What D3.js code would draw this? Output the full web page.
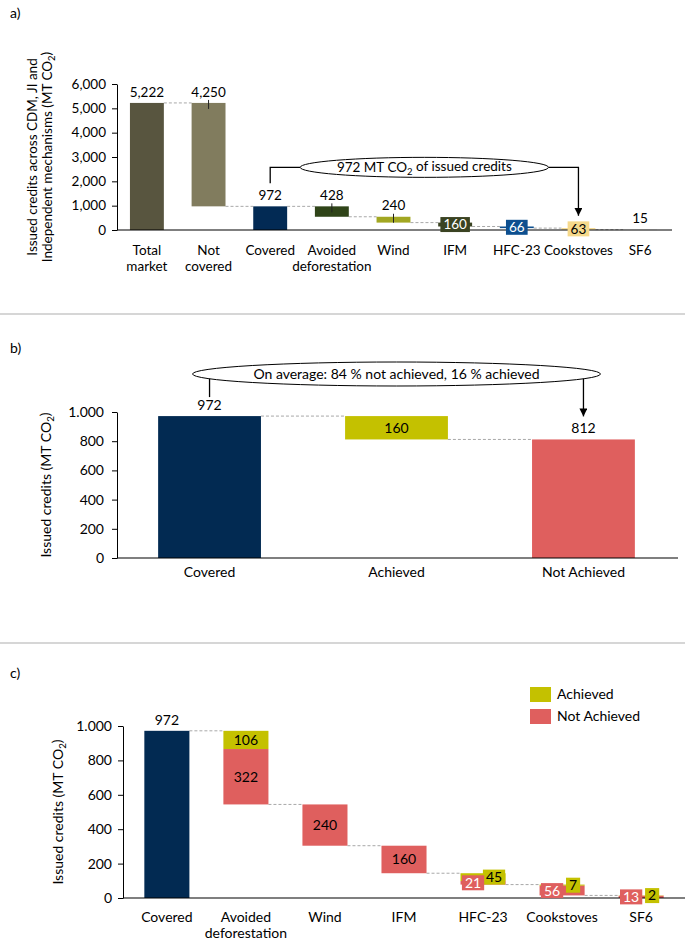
<!DOCTYPE html>
<html>
<head>
<meta charset="utf-8">
<script src="https://cdn.jsdelivr.net/npm/d3@7"></script>
<style>
body { margin: 0; background: #fff; }
svg { font-family: Lato, "Open Sans", sans-serif; }
</style>
</head>
<body>
<div id="chart"></div>
<script>
// ---- data, panel a (issued credits, all mechanisms) ----
var aCategories = [["Total", "market"], ["Not", "covered"], ["Covered"], ["Avoided", "deforestation"],
                   ["Wind"], ["IFM"], ["HFC-23"], ["Cookstoves"], ["SF6"]];
var aValues = [5222, 4250, 972, 428, 240, 160, 66, 63, 15];
var aKind = ["total", "step", "total", "step", "step", "step", "step", "step", "step"];
var aTicks = [0, 1000, 2000, 3000, 4000, 5000, 6000];

// ---- data, panel b ----
var bCategories = [["Covered"], ["Achieved"], ["Not Achieved"]];
var bValues = [972, 160, 812];
var bKind = ["total", "step", "total"];
var bTicks = [0, 200, 400, 600, 800, 1000];

// ---- data, panel c ----
var cCategories = [["Covered"], ["Avoided", "deforestation"], ["Wind"], ["IFM"], ["HFC-23"], ["Cookstoves"], ["SF6"]];
var cCovered = 972;
var cAchieved = [0, 106, 0, 0, 45, 7, 2];
var cNotAchieved = [0, 322, 240, 160, 21, 56, 13];
var cTicks = [0, 200, 400, 600, 800, 1000];

// colours
var aFill = ["#58553f", "#817c5e", "#022a54", "#2f4418", "#a2a722", "#3a4322", "#0d4f8f", "#f6d98b", "#dcdcdc"];
var navy = "#022a52", yellow = "#c4c100", red = "#df5f5e";

var W = 685, H = 940;
var svg = d3.select("#chart").append("svg").attr("width", W).attr("height", H);
svg.append("rect").attr("width", W).attr("height", H).attr("fill", "#fff");

svg.append("defs").append("marker")
   .attr("id", "arrow").attr("viewBox", "0 0 10 10")
   .attr("refX", 10).attr("refY", 5)
   .attr("markerWidth", 8).attr("markerHeight", 8)
   .attr("markerUnits", "userSpaceOnUse")
   .attr("orient", "auto")
   .append("path").attr("d", "M0,0 L10,5 L0,10 Z").attr("fill", "#000");

// separators + panel letters
svg.selectAll("line.sep").data([314, 643]).enter().append("line")
   .attr("x1", 0).attr("x2", W).attr("y1", d => d).attr("y2", d => d)
   .attr("stroke", "#c8c8c8").attr("stroke-width", 1.5);
svg.selectAll("text.letter").data([["a)", 13], ["b)", 348], ["c)", 673]]).enter().append("text")
   .attr("x", 10).attr("y", d => d[1]).attr("dy", "0.35em")
   .style("font-size", "14px").text(d => d[0]);

var fmtComma = d3.format(",");
var fmtDot = d3.formatLocale({decimal: ",", thousands: ".", grouping: [3], currency: ["", ""]}).format(",");

function yAxis(y, x0, ticks, fmt, fs, pad) {
    var ax = d3.axisLeft(y).tickValues(ticks).tickFormat(fmt)
               .tickSize(5).tickSizeOuter(0).tickPadding(pad);
    var g = svg.append("g").attr("transform", "translate(" + x0 + ",0)").call(ax);
    g.attr("font-family", null).attr("font-size", null);
    g.selectAll("text").style("font-size", fs + "px").attr("fill", "#000");
    g.selectAll("line").attr("stroke", "#000");
    g.select(".domain").attr("stroke", "#000");
}

function baseline(x, y) {
    svg.append("line")
       .attr("x1", x.range()[0]).attr("x2", x.range()[1] + 2)
       .attr("y1", y(0)).attr("y2", y(0))
       .attr("stroke", "#000").attr("stroke-width", 1.2);
}

function catLabels(x, cats, y0, lh, fs) {
    var t = svg.append("g").selectAll("text").data(cats).enter().append("text")
               .attr("text-anchor", "middle").style("font-size", fs + "px");
    t.each(function(d, i) {
        var sel = d3.select(this);
        d.forEach(function(line, j) {
            sel.append("tspan").attr("x", x(i) + x.bandwidth() / 2)
               .attr("y", y0 + j * lh).attr("dy", "0.35em").text(line);
        });
    });
}

// rotated y title, lines = array of strings; last line ends with "(MT CO" + sub 2 + ")"
function yTitle(cx, cy, lines, lh, fs) {
    var t = svg.append("text").attr("transform", "translate(" + cx + "," + cy + ") rotate(-90)")
               .attr("text-anchor", "middle").style("font-size", fs + "px");
    lines.forEach(function(line, j) {
        var ts = t.append("tspan").attr("x", 0).attr("y", j * lh).attr("dy", "0.35em");
        if (j === lines.length - 1) {
            ts.text(line + " (MT CO");
            t.append("tspan").attr("dy", "0.3em").style("font-size", (fs * 0.7) + "px").text("2");
            t.append("tspan").attr("dy", "-0.25em").text(")");
        } else {
            ts.text(line);
        }
    });
}

function waterfall(values, kind) {
    var level = 0;
    return values.map(function(v, i) {
        var lo, hi;
        if (kind[i] === "total") { lo = 0; hi = v; level = v; }
        else { hi = level; lo = level - v; level = lo; }
        return {i: i, lo: lo, hi: hi, v: v, end: level};
    });
}

function connectors(x, y, bars) {
    for (var k = 0; k < bars.length - 1; k++) {
        svg.append("line")
           .attr("x1", x(k) + x.bandwidth()).attr("x2", x(k + 1))
           .attr("y1", y(bars[k].end)).attr("y2", y(bars[k].end))
           .attr("stroke", "#a8a8a8").attr("stroke-width", 1).attr("stroke-dasharray", "3,2");
    }
}

function boxLabel(cx, cy, txt, fill, fg, fs) {
    var g = svg.append("g");
    var t = g.append("text").attr("x", cx).attr("y", cy).attr("dy", "0.35em")
             .attr("text-anchor", "middle").style("font-size", fs + "px").attr("fill", fg).text(txt);
    var w = t.node().getComputedTextLength();
    g.insert("rect", "text").attr("x", cx - w / 2 - 3).attr("y", cy - 7.5)
     .attr("width", w + 6).attr("height", 15).attr("fill", fill);
}

// ================= panel a =================
var xa = d3.scaleBand().domain(d3.range(aValues.length)).range([117, 670]).paddingInner(0.45).paddingOuter(0.21);
var ya = d3.scaleLinear().domain([0, 6000]).range([230, 84]);
var aBars = waterfall(aValues, aKind);

connectors(xa, ya, aBars);
svg.append("g").selectAll("rect").data(aBars).enter().append("rect")
   .attr("x", d => xa(d.i)).attr("width", xa.bandwidth())
   .attr("y", d => ya(d.hi)).attr("height", d => Math.max(0.5, ya(d.lo) - ya(d.hi)))
   .attr("fill", d => aFill[d.i]);
yAxis(ya, 117, aTicks, fmtComma, 13.5, 6);
baseline(xa, ya);
catLabels(xa, aCategories, 250, 16, 13.5);
yTitle(32, 157, ["Issued credits across CDM, JI and", "Independent mechanisms"], 15, 13.5);

var aBoxed = {"IFM": 1, "HFC-23": 1, "Cookstoves": 1};
aBars.forEach(function(d) {
    var cx = xa(d.i) + xa.bandwidth() / 2;
    var name = aCategories[d.i].join(" ");
    if (aBoxed[name]) {
        var fg = d3.hsl(aFill[d.i]).l > 0.6 ? "#000" : "#fff";
        boxLabel(cx, ya((d.hi + d.lo) / 2), fmtComma(d.v), aFill[d.i], fg, 13.5);
    } else {
        svg.append("text").attr("x", cx).attr("y", ya(d.hi) - 11).attr("dy", "0.35em")
           .attr("text-anchor", "middle").style("font-size", "13.5px").text(fmtComma(d.v));
        if (d.i > 0 && aKind[d.i] === "step" && ya(d.lo) - ya(d.hi) > 3) {
            svg.append("line").attr("x1", cx).attr("x2", cx)
               .attr("y1", ya(d.hi) - 3).attr("y2", ya(d.hi) + 6)
               .attr("stroke", "#222").attr("stroke-width", 1);
        }
    }
});

// callout a
(function() {
    var xl = xa(2) + xa.bandwidth() / 2, xr = xa(7) + xa.bandwidth() / 2;
    var cy = ya(972) - 39, rx = (xr - xl) / 2 - 30, cx = (xl + xr) / 2;
    svg.append("path").attr("d", "M" + xl + "," + (ya(972) - 23) + " V" + cy + " H" + (cx - rx))
       .attr("fill", "none").attr("stroke", "#000").attr("stroke-width", 1.3);
    svg.append("path").attr("d", "M" + (cx + rx) + "," + cy + " H" + xr + " V" + (ya(46.5) - 13))
       .attr("fill", "none").attr("stroke", "#000").attr("stroke-width", 1.3).attr("marker-end", "url(#arrow)");
    svg.append("ellipse").attr("cx", cx).attr("cy", cy).attr("rx", rx).attr("ry", 10)
       .attr("fill", "#fff").attr("stroke", "#000").attr("stroke-width", 1);
    var t = svg.append("text").attr("x", cx).attr("y", cy).attr("dy", "0.35em")
               .attr("text-anchor", "middle").style("font-size", "13.5px");
    t.append("tspan").text("972 MT CO");
    t.append("tspan").attr("dy", "0.3em").style("font-size", "9.5px").text("2");
    t.append("tspan").attr("dy", "-0.3em").text(" of issued credits");
})();

// ================= panel b =================
var xb = d3.scaleBand().domain(d3.range(bValues.length)).range([117, 676]).paddingInner(0.45).paddingOuter(0.22);
var yb = d3.scaleLinear().domain([0, 1000]).range([558, 412]);
var bBars = waterfall(bValues, bKind);
var bFill = [navy, yellow, red];

connectors(xb, yb, bBars);
svg.append("g").selectAll("rect").data(bBars).enter().append("rect")
   .attr("x", d => xb(d.i)).attr("width", xb.bandwidth())
   .attr("y", d => yb(d.hi)).attr("height", d => yb(d.lo) - yb(d.hi))
   .attr("fill", (d, i) => bFill[i]);
yAxis(yb, 117, bTicks, fmtDot, 14, 8);
baseline(xb, yb);
catLabels(xb, bCategories, 572, 16, 14);
yTitle(46, 485, ["Issued credits"], 15, 14);

bBars.forEach(function(d) {
    var cx = xb(d.i) + xb.bandwidth() / 2;
    var y = bKind[d.i] === "step" ? yb((d.hi + d.lo) / 2) : yb(d.hi) - 11;
    svg.append("text").attr("x", cx).attr("y", y).attr("dy", "0.35em")
       .attr("text-anchor", "middle").style("font-size", "14px").text(fmtComma(d.v));
});

// callout b
(function() {
    var xl = xb(0) + xb.bandwidth() / 2, xr = xb(2) + xb.bandwidth() / 2;
    var cx = xb(1) + xb.bandwidth() / 2, cy = 374, rx = (xr - xl) / 2 + 17, ry = 12;
    var yEdge = function(x) { var u = (x - cx) / rx; return cy + ry * Math.sqrt(Math.max(0, 1 - u * u)); };
    svg.append("ellipse").attr("cx", cx).attr("cy", cy).attr("rx", rx).attr("ry", ry)
       .attr("fill", "#fff").attr("stroke", "#000").attr("stroke-width", 1);
    svg.append("line").attr("x1", xl).attr("x2", xl).attr("y1", yEdge(xl)).attr("y2", yb(972) - 19)
       .attr("stroke", "#000").attr("stroke-width", 1.3);
    svg.append("line").attr("x1", xr).attr("x2", xr).attr("y1", yEdge(xr)).attr("y2", yb(812) - 23)
       .attr("stroke", "#000").attr("stroke-width", 1.3).attr("marker-end", "url(#arrow)");
    svg.append("text").attr("x", cx).attr("y", cy).attr("dy", "0.35em")
       .attr("text-anchor", "middle").style("font-size", "14px")
       .text("On average: 84 % not achieved, 16 % achieved");
})();

// ================= panel c =================
var xc = d3.scaleBand().domain(d3.range(cCategories.length)).range([123, 685]).paddingInner(0.43).paddingOuter(0.27);
var yc = d3.scaleLinear().domain([0, 1000]).range([898, 726]);

// segments: covered total, then achieved on top and not achieved below for each step
var cSegs = [{i: 0, lo: 0, hi: cCovered, v: cCovered, type: "covered"}];
var cLevel = cCovered, cEnds = [cCovered];
for (var k = 1; k < cCategories.length; k++) {
    var cTop = cLevel;
    if (cAchieved[k] > 0) cSegs.push({i: k, hi: cTop, lo: cTop - cAchieved[k], v: cAchieved[k], type: "ach"});
    cTop -= cAchieved[k];
    cSegs.push({i: k, hi: cTop, lo: cTop - cNotAchieved[k], v: cNotAchieved[k], type: "not"});
    cLevel = cTop - cNotAchieved[k];
    cEnds.push(cLevel);
}
connectors(xc, yc, cEnds.map(function(e) { return {end: e}; }));
var cColor = {covered: navy, ach: yellow, not: red};
svg.append("g").selectAll("rect").data(cSegs).enter().append("rect")
   .attr("x", d => xc(d.i)).attr("width", xc.bandwidth())
   .attr("y", d => yc(d.hi)).attr("height", d => yc(d.lo) - yc(d.hi))
   .attr("fill", d => cColor[d.type]);
yAxis(yc, 123, cTicks, fmtDot, 14, 6);
baseline(xc, yc);
catLabels(xc, cCategories, 917, 16, 14);
yTitle(58, 812, ["Issued credits"], 15, 14);

cSegs.forEach(function(d) {
    var cx = xc(d.i) + xc.bandwidth() / 2;
    var h = yc(d.lo) - yc(d.hi);
    if (d.type === "covered") {
        svg.append("text").attr("x", cx).attr("y", yc(d.hi) - 11).attr("dy", "0.35em")
           .attr("text-anchor", "middle").style("font-size", "14px").text(fmtComma(d.v));
    } else if (h > 16) {
        svg.append("text").attr("x", cx).attr("y", yc((d.hi + d.lo) / 2)).attr("dy", "0.35em")
           .attr("text-anchor", "middle").style("font-size", "14px").text(fmtComma(d.v));
    } else {
        var dx = d.type === "ach" ? 11 : -10;
        boxLabel(cx + dx, yc((d.hi + d.lo) / 2), fmtComma(d.v), cColor[d.type],
                 d.type === "ach" ? "#000" : "#fff", 14);
    }
});

// legend c
var legend = svg.append("g").attr("transform", "translate(530,687)");
[["Achieved", yellow], ["Not Achieved", red]].forEach(function(d, j) {
    legend.append("rect").attr("x", 0).attr("y", j * 22).attr("width", 21).attr("height", 15).attr("fill", d[1]);
    legend.append("text").attr("x", 27).attr("y", j * 22 + 7.5).attr("dy", "0.35em")
          .style("font-size", "14px").text(d[0]);
});
</script>
</body>
</html>
